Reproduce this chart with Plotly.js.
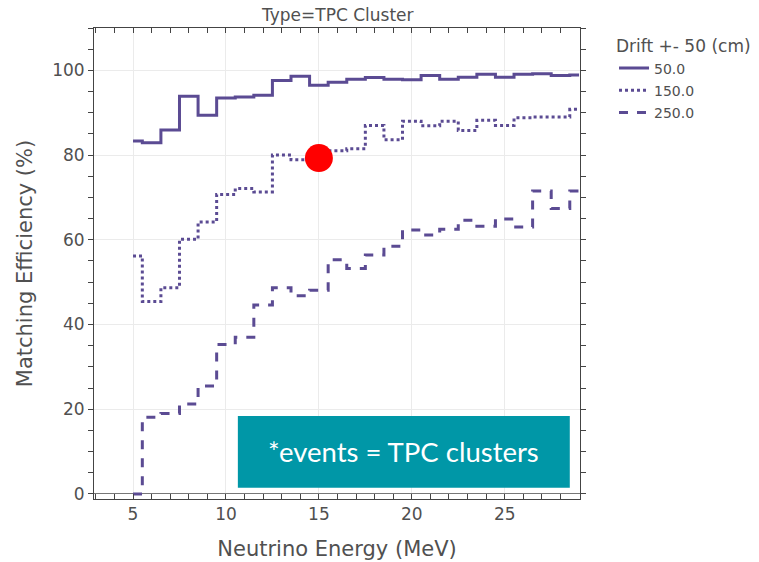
<!DOCTYPE html>
<html>
<head>
<meta charset="utf-8">
<script src="https://cdn.plot.ly/plotly-3.0.1.min.js"></script>
<style>html,body{margin:0;padding:0;background:#fff;}#chart{width:759px;height:562px;}</style>
</head>
<body>
<div id="chart"></div>
<script>
// ---- data ----
const energy = [5,6,7,8,9,10,11,12,13,14,15,16,17,18,19,20,21,22,23,24,25,26,27,28,29];
const eff50  = [83.3,82.9,85.9,93.9,89.4,93.5,93.7,94.1,97.6,98.6,96.5,97.2,97.9,98.3,97.9,97.8,98.8,97.9,98.4,99.1,98.4,99.1,99.2,98.8,98.9];
const eff150 = [56.2,45.4,48.7,60.1,64.2,70.7,72.1,71.3,80.0,78.9,79.9,81.0,81.5,87.0,83.6,88.0,86.9,88.0,85.8,88.2,87.0,88.8,89.0,89.0,90.8];
const eff250 = [0.0,18.1,19.0,21.2,25.5,35.3,37.0,44.6,48.7,46.8,48.1,55.3,53.2,56.4,58.5,62.3,61.1,62.5,64.6,63.2,64.9,63.0,71.5,67.4,71.5];
const seriesNames = ["50.0","150.0","250.0"];
const highlightX = [15];
const highlightY = [79.3];
const xTicks = [5,10,15,20,25];
const yTicks = [0,20,40,60,80,100];
const legendTitle = "Drift +- 50 (cm)";
const facetTitle = "Type=TPC Cluster";
const noteText = "*events = TPC clusters";

const lineColor = "#5b4b93";
const dashes = ["solid","dot","dash"];
const series = [eff50, eff150, eff250];

const traces = series.map((ys, i) => ({
  type: "scatter", mode: "lines", x: energy, y: ys, name: seriesNames[i],
  legendgroup: "g" + i,
  line: {shape: "hvh", color: lineColor, width: 3, dash: dashes[i]}
}));
traces.push({
  type: "scatter", mode: "markers", x: highlightX, y: highlightY, showlegend: false,
  marker: {color: "#ff0000", size: 28, line: {width: 0}}, hoverinfo: "skip"
});

const axisCommon = {
  showline: true, linecolor: "#444", linewidth: 1, mirror: "allticks",
  ticklen: 5, tickcolor: "#444",
  showgrid: true, gridcolor: "#ebebeb", gridwidth: 1,
  tickfont: {family: "DejaVu Sans", size: 17, color: "#505050"}
};

const layout = {
  width: 759, height: 562,
  margin: {l: 94, r: 179, t: 28, b: 63},
  paper_bgcolor: "#fff", plot_bgcolor: "#fff",
  font: {family: "DejaVu Sans", color: "#505050"},
  xaxis: Object.assign({}, axisCommon, {
    range: [2.9, 29.05], tickvals: xTicks, zeroline: false, ticks: "inside",
    minor: {dtick: 1, ticks: "inside", ticklen: 5, tickcolor: "#444", showgrid: false},
    title: {text: "Neutrino Energy (MeV)", font: {family: "DejaVu Sans", size: 21, color: "#505050"}, standoff: 17}
  }),
  yaxis: Object.assign({}, axisCommon, {
    range: [-1.2, 110], tickvals: yTicks, ticks: "outside",
    zeroline: true, zerolinecolor: "#777", zerolinewidth: 1,
    minor: {dtick: 5, ticks: "outside", ticklen: 5, tickcolor: "#444", showgrid: false},
    title: {text: "Matching Efficiency (%)", font: {family: "DejaVu Sans", size: 21, color: "#505050"}, standoff: 13}
  }),
  legend: {
    xref: "container", yref: "container",
    x: 0.809, xanchor: "left", y: 0.946, yanchor: "top",
    title: {text: legendTitle, font: {family: "DejaVu Sans", size: 17, color: "#505050"}},
    font: {family: "DejaVu Sans", size: 14, color: "#505050"},
    tracegroupgap: 1
  },
  shapes: [{
    type: "rect", xref: "paper", yref: "paper",
    x0: 0.296, x1: 0.979, y0: 0.024, y1: 0.176,
    fillcolor: "#0097a7", line: {width: 0}
  }],
  annotations: [
    {text: facetTitle, xref: "paper", yref: "paper", x: 0.5, y: 1, xanchor: "center", yanchor: "bottom",
     showarrow: false, yshift: 1, font: {family: "DejaVu Sans", size: 17, color: "#505050"}},
    {text: noteText, xref: "paper", yref: "paper", x: 0.6375, y: 0.10, xanchor: "center", yanchor: "middle",
     showarrow: false, font: {family: "Lato", size: 27.5, color: "#ffffff"}}
  ]
};

Plotly.newPlot("chart", traces, layout, {displayModeBar: false, staticPlot: true});
</script>
</body>
</html>
